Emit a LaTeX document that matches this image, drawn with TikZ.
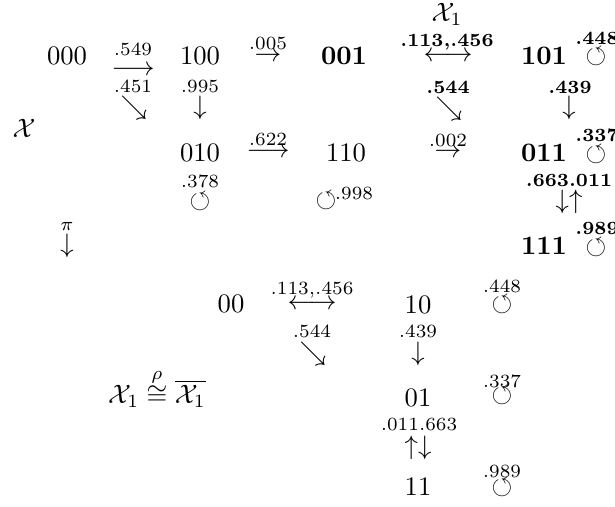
\documentclass[tikz,border=0pt]{standalone}
\usepackage{amsmath,amssymb}
\usepackage{tikz}

\begin{document}
\begin{tikzpicture}[x=0.375pt, y=-0.375pt, inner sep=0pt,
        st/.style={anchor=center},
        bst/.style={anchor=center, font=\boldmath},
        lbl/.style={anchor=center, font=\scriptsize},
        blbl/.style={anchor=center, font=\scriptsize\boldmath}]
      \useasboundingbox (0,0) rectangle (615,506);
      % chain on three bits
      \node[st] (sX) at (24,128) {$\mathcal{X}$};
      \node[st] (s000) at (67,56) {$000$};
      \node[lbl] (l549) at (133,49) {$.549$};
      \node[st] (a549) at (133,71) {$\longrightarrow$};
      \node[lbl] (l451) at (133,86) {$.451$};
      \node[st] (a451) at (134,108) {$\searrow$};
      \node[st] (s100) at (200,56) {$100$};
      \node[lbl] (l995) at (200,86) {$.995$};
      \node[st] (a995) at (200,108) {$\downarrow$};
      \node[lbl] (l005) at (268,43) {$.005$};
      \node[st] (a005) at (268,57) {$\rightarrow$};
      \node[st] (s010) at (200,153) {$010$};
      \node[lbl] (l378) at (200,181) {$.378$};
      \node[st] (c378) at (200,202) {$\circlearrowleft$};
      \node[lbl] (l622) at (268,139) {$.622$};
      \node[st] (a622) at (268,153) {$\longrightarrow$};
      \node[st] (s110) at (346,153) {$110$};
      \node[st] (c998) at (326,201) {$\circlearrowleft$};
      \node[lbl] (l998) at (354,193) {$.998$};
      \node[lbl] (l002) at (448,140) {$.002$};
      \node[st] (a002) at (448,153) {$\rightarrow$};
      % closed class
      \node[st] (sX1) at (447,14) {$\mathcal{X}_1$};
      \node[bst] (s001) at (344,56) {$\mathbf{001}$};
      \node[blbl] (l113b) at (447,42) {$\mathbf{.113{,}.456}$};
      \node[st] (a113b) at (448,57) {$\longleftrightarrow$};
      \node[blbl] (l544b) at (448,87) {$\mathbf{.544}$};
      \node[st] (a544b) at (449,109) {$\searrow$};
      \node[bst] (s101) at (544,56) {$\mathbf{101}$};
      \node[blbl] (l448b) at (597,38) {$\mathbf{.448}$};
      \node[st] (c448b) at (596,57) {$\circlearrowleft$};
      \node[blbl] (l439b) at (570,87) {$\mathbf{.439}$};
      \node[st] (a439b) at (569,108) {$\downarrow$};
      \node[bst] (s011) at (544,153) {$\mathbf{011}$};
      \node[blbl] (l337b) at (597,135) {$\mathbf{.337}$};
      \node[st] (c337b) at (596,155) {$\circlearrowleft$};
      \node[blbl] (l663b) at (569,180) {$\mathbf{.663.011}$};
      \node[st] (a663b) at (569,202) {$\downarrow\uparrow$};
      \node[bst] (s111) at (544,246) {$\mathbf{111}$};
      \node[blbl] (l989b) at (597,228) {$\mathbf{.989}$};
      \node[st] (c989b) at (596,248) {$\circlearrowleft$};
      % projection
      \node[lbl] (lpi) at (67,226) {$\pi$};
      \node[st] (api) at (67,246) {$\downarrow$};
      % quotient chain on two bits
      \node[st] (sIso) at (157,388)
            {$\mathcal{X}_1 \stackrel{\rho}{\cong} \overline{\mathcal{X}_1}$};
      \node[st] (t00) at (231,304) {$00$};
      \node[lbl] (l113) at (312,290) {$.113{,}.456$};
      \node[st] (a113) at (312,305) {$\longleftrightarrow$};
      \node[lbl] (l544) at (312,331) {$.544$};
      \node[st] (a544) at (313,354) {$\searrow$};
      \node[st] (t10) at (418,305) {$10$};
      \node[lbl] (l448) at (502,286) {$.448$};
      \node[st] (c448) at (502,305) {$\circlearrowleft$};
      \node[lbl] (l439) at (418,331) {$.439$};
      \node[st] (a439) at (418,354) {$\downarrow$};
      \node[st] (t01) at (418,398) {$01$};
      \node[lbl] (l337) at (502,381) {$.337$};
      \node[st] (c337) at (502,396) {$\circlearrowleft$};
      \node[lbl] (l011) at (419,424) {$.011.663$};
      \node[st] (a011) at (418,448) {$\uparrow\downarrow$};
      \node[st] (t11) at (418,487) {$11$};
      \node[lbl] (l989) at (502,471) {$.989$};
      \node[st] (c989) at (502,488) {$\circlearrowleft$};
    \end{tikzpicture}
\end{document}
